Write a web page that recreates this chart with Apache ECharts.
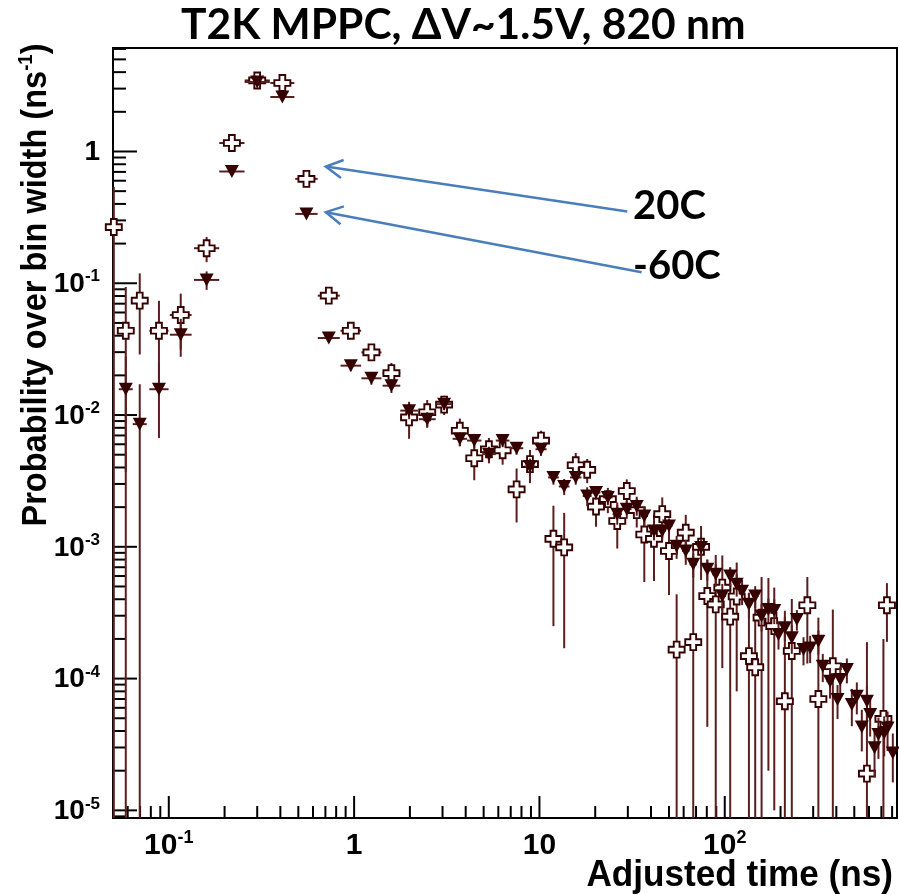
<!DOCTYPE html>
<html><head><meta charset="utf-8">
<script src="https://cdn.jsdelivr.net/npm/echarts@6/dist/echarts.min.js"></script>
<style>html,body{margin:0;padding:0;background:#fff}#c{width:899px;height:895px}</style>
</head><body><div id="c"></div>
<script>
// ---- text ----
const titleText = 'T2K MPPC, \u0394V~1.5V, 820 nm';
const xAxisTitle = 'Adjusted time (ns)';
const seriesNames = ['20C', '-60C'];

// ---- axis ranges and ticks ----
const X_MIN = 0.05, X_MAX = 850;
const Y_MIN = 8.75e-6, Y_MAX = 6.1;
const xMajorTicks = [0.1, 1, 10, 100];
const xMinorTicks = [0.06,0.07,0.08,0.09,0.2,0.3,0.4,0.5,0.6,0.7,0.8,0.9,2,3,4,5,6,7,8,9,20,30,40,50,60,70,80,90,200,300,400,500,600,700,800];
const yMajorTicks = [1e-5, 1e-4, 1e-3, 1e-2, 1e-1, 1];
const yMinorTicks = [9e-6,2e-5,3e-5,4e-5,5e-5,6e-5,7e-5,8e-5,9e-5,2e-4,3e-4,4e-4,5e-4,6e-4,7e-4,8e-4,9e-4,2e-3,3e-3,4e-3,5e-3,6e-3,7e-3,8e-3,9e-3,0.02,0.03,0.04,0.05,0.06,0.07,0.08,0.09,0.2,0.3,0.4,0.5,0.6,0.7,0.8,0.9,2,3,4,5,6];

// ---- 20C (open crosses) ----
const warmX = [0.0505,0.0586,0.0697,0.0885,0.116,0.16,0.219,0.30,0.41,0.553,0.73,0.96,1.24,1.59,1.98,2.48,3.06,3.72,4.45,5.34,6.33,7.53,8.89,10.2,11.9,13.6,15.7,18.1,20.2,23.4,26.3,29.6,33.5,36.8,41.5,46,50,55,61.6,67.6,74.5,80.5,89.4,97,107,116,135,146,158,172,185,211,230,279,320,383,585,718,750];
const warmY = [0.267,0.0436,0.0738,0.0436,0.0574,0.1845,1.16,3.46,3.31,0.62,0.0805,0.0436,0.0299,0.0208,0.0096,0.0105,0.012,0.0076,0.0047,0.0055,0.0054,0.00273,0.00424,0.0064,0.00115,0.00099,0.00416,0.00384,0.00202,0.0023,0.00157,0.00265,0.0019,0.00124,0.00115,0.00177,0.00093,0.000166,0.00128,0.000189,0.001,0.000423,0.000366,0.00049,0.000295,0.00042,0.000148,0.000122,0.00029,0.0003,0.00025,0.0000673,0.000162,0.00036,0.00007,0.000124,0.000019,0.0000495,0.00036];
const warmErr = [0.27,0.05,0.045,0.03,0.026,0.04,0.08,0.25,0.25,0.05,0.006,0.005,0.004,0.004,0.003,0.0025,0.002,0.0018,0.0015,0.0012,0.0012,0.0012,0.0012,0.0012,0.0009,0.00082,0.001,0.0008,0.0006,0.0005,0.0006,0.0006,0.0005,0.0007,0.0006,0.0006,0.0005,0.00027,0.00047,0.0008,0.00044,0.00038,0.0005,0.00037,0.0004,0.00034,0.0003,0.0003,0.0003,0.00028,0.00024,0.00026,0.00024,0.00023,0.00022,0.00021,0.00017,0.00015,0.00017];

// ---- -60C (filled down triangles) ----
const coldX = [0.0586,0.0697,0.0885,0.116,0.16,0.219,0.30,0.41,0.553,0.73,0.96,1.24,1.59,1.98,2.48,3.06,3.72,4.45,5.34,6.33,7.53,8.89,10.2,11.9,13.6,15.7,18.1,20.2,23.4,26.3,29.6,33.5,36.8,41.5,46,50,55,61.6,67.6,74.5,80.5,89.4,97,107,116,124,135,146,158,172,185,195,211,230,245,266,289,320,338,370,406,420,456,485,516,549,585,609,643,675,725,756,807];
const coldY = [0.0157,0.00853,0.0157,0.0407,0.106,0.705,3.37,2.59,0.336,0.0384,0.0237,0.019,0.0167,0.0108,0.0093,0.0121,0.0066,0.0064,0.00505,0.0064,0.0056,0.00407,0.0055,0.00336,0.00287,0.00336,0.00243,0.00258,0.00237,0.00177,0.00193,0.00202,0.00171,0.00132,0.00132,0.00144,0.00101,0.00093,0.000736,0.00099,0.000675,0.000618,0.000423,0.0006,0.000519,0.000461,0.000366,0.000423,0.000298,0.000335,0.000329,0.000216,0.000243,0.000204,0.000281,0.000166,0.000171,0.000192,0.000124,0.0000955,0.0000693,0.0000985,0.000117,0.0000635,0.0000735,0.000043,0.0000673,0.0000533,0.0000298,0.0000376,0.0000387,0.0000422,0.0000273];
const coldErr = [0.012,0.0086,0.009,0.013,0.017,0.05,0.15,0.15,0.02,0.003,0.002,0.002,0.002,0.0015,0.0012,0.0012,0.0008,0.0008,0.0007,0.0007,0.0006,0.0006,0.0006,0.0004,0.0004,0.0004,0.0004,0.0003,0.0003,0.0003,0.0003,0.0003,0.0003,0.0002,0.0002,0.0002,0.0002,0.0002,0.00015,0.00015,0.00012,0.00012,0.0001,0.0001,0.0001,0.0001,0.00008,0.00008,0.00007,0.00007,0.00007,0.00005,0.00005,0.00005,0.00005,0.00004,0.00004,0.00004,0.00003,0.000025,0.00002,0.000025,0.000025,0.00002,0.00002,0.000015,0.00002,0.000017,0.000012,0.000013,0.000013,0.000014,0.000011];

// ---- annotation anchors (data coordinates) ----
const arrowTips = [[0.7035, 0.769], [0.7035, 0.3463]];
const arrowTails = [[29.8, 0.35], [35.6, 0.1213]];
const labelAnchors = [[32.0, 0.387], [32.0, 0.1353]];

const MARK = '#360000';
const ERRC = '#5a1e1e';
const AXF = '"Liberation Sans", Arial, sans-serif';

function buildPoints(xs, ys, es) {
  return xs.map(function (x, i) {
    const prev = i > 0 ? x / xs[i - 1] : Infinity;
    const next = i < xs.length - 1 ? xs[i + 1] / x : Infinity;
    let r = Math.min(prev, next);
    if (!isFinite(r)) r = 1.1;
    const h = Math.sqrt(r);
    return [x, ys[i], es[i], x / h, x * h];
  });
}
const warmPts = buildPoints(warmX, warmY, warmErr);
const coldPts = buildPoints(coldX, coldY, coldErr);

function errRender(params, api) {
  const x = api.value(0), y = api.value(1), e = api.value(2);
  const lo = Math.max(y - e, Y_MIN), hi = Math.min(y + e, Y_MAX);
  const c = api.coord([x, y]);
  const pl = api.coord([x, lo]), ph = api.coord([x, hi]);
  const l = api.coord([api.value(3), y]), r = api.coord([api.value(4), y]);
  const st = { stroke: ERRC, lineWidth: 2 };
  return { type: 'group', children: [
    { type: 'line', shape: { x1: c[0], y1: ph[1], x2: c[0], y2: pl[1] }, style: st },
    { type: 'line', shape: { x1: l[0], y1: c[1], x2: r[0], y2: c[1] }, style: st }
  ]};
}

const tickData = [];
xMajorTicks.forEach(v => tickData.push([v, Y_MIN, 22, 0]));
xMinorTicks.forEach(v => tickData.push([v, Y_MIN, 12, 0]));
yMajorTicks.forEach(v => tickData.push([X_MIN, v, 24, 1]));
yMinorTicks.forEach(v => tickData.push([X_MIN, v, 13, 1]));

function tickRender(params, api) {
  const p = api.coord([api.value(0), api.value(1)]);
  const len = api.value(2);
  const shape = api.value(3) === 0
    ? { x1: p[0], y1: p[1], x2: p[0], y2: p[1] - len }
    : { x1: p[0], y1: p[1], x2: p[0] + len, y2: p[1] };
  return { type: 'line', shape: shape, style: { stroke: '#000', lineWidth: 2 } };
}

function powLabel(v) {
  const l = Math.log10(v);
  const k = Math.round(l);
  if (Math.abs(l - k) > 1e-6) return '';
  if (k === 0) return '{b|1}';
  if (k === 1) return '{b|10}';
  return '{b|10}{s|' + k + '}';
}

const crossPath = 'path://M0.32,0 L0.68,0 L0.68,0.32 L1,0.32 L1,0.68 L0.68,0.68 L0.68,1 L0.32,1 L0.32,0.68 L0,0.68 L0,0.32 L0.32,0.32 Z';

const chart = echarts.init(document.getElementById('c'), null, { renderer: 'canvas' });
const option = {
  animation: false,
  backgroundColor: '#fff',
  title: {
    text: titleText, left: 176, top: -1,
    textStyle: { fontFamily: 'Lato, "Open Sans", sans-serif', fontWeight: 'bold', fontSize: 42.5, color: '#000' }
  },
  grid: { left: 113, right: 2, top: 48, bottom: 77, show: true, borderColor: '#000', borderWidth: 2, backgroundColor: 'transparent', containLabel: false, outerBoundsMode: 'none' },
  xAxis: {
    type: 'log', logBase: 10, min: X_MIN, max: X_MAX,
    axisLine: { show: false }, axisTick: { show: false }, minorTick: { show: false }, splitLine: { show: false },
    axisLabel: {
      margin: 11, formatter: powLabel, showMinLabel: true, showMaxLabel: true, hideOverlap: false,
      rich: {
        b: { fontFamily: AXF, fontWeight: 'bold', fontSize: 30, color: '#000', lineHeight: 32, verticalAlign: 'bottom' },
        s: { fontFamily: AXF, fontWeight: 'bold', fontSize: 18, color: '#000', lineHeight: 18, verticalAlign: 'top' }
      }
    }
  },
  yAxis: {
    type: 'log', logBase: 10, min: Y_MIN, max: Y_MAX,
    axisLine: { show: false }, axisTick: { show: false }, minorTick: { show: false }, splitLine: { show: false },
    axisLabel: {
      margin: 13, formatter: powLabel, hideOverlap: false,
      rich: {
        b: { fontFamily: AXF, fontWeight: 'bold', fontSize: 28, color: '#000', lineHeight: 30, verticalAlign: 'bottom' },
        s: { fontFamily: AXF, fontWeight: 'bold', fontSize: 17, color: '#000', lineHeight: 17, verticalAlign: 'top' }
      }
    }
  },
  series: [
    { type: 'custom', name: 'ticks', silent: true, clip: false, z: 1, data: tickData, renderItem: tickRender, encode: { x: 0, y: 1 } },
    { type: 'custom', name: seriesNames[0] + ' err', silent: true, clip: false, z: 2, data: warmPts, renderItem: errRender, encode: { x: 0, y: 1 } },
    { type: 'scatter', name: seriesNames[0], silent: true, clip: false, z: 3, data: warmPts.map(p => [p[0], p[1]]),
      symbol: crossPath, symbolSize: 16, itemStyle: { color: '#fff', borderColor: MARK, borderWidth: 1.9, opacity: 1 } },
    { type: 'custom', name: seriesNames[1] + ' err', silent: true, clip: false, z: 4, data: coldPts, renderItem: errRender, encode: { x: 0, y: 1 } },
    { type: 'scatter', name: seriesNames[1], silent: true, clip: false, z: 5, data: coldPts.map(p => [p[0], p[1]]),
      symbol: 'triangle', symbolRotate: 180, symbolSize: [14, 13], itemStyle: { color: MARK, opacity: 1 } }
  ]
};
chart.setOption(option);

function px(p) { return chart.convertToPixel({ gridIndex: 0 }, p); }
const graphics = [];
arrowTips.forEach(function (tipD, i) {
  const tip = px(tipD), tail = px(arrowTails[i]);
  const ang = Math.atan2(tail[1] - tip[1], tail[0] - tip[0]);
  const L = 19, A = 0.5;
  const w1 = [tip[0] + L * Math.cos(ang + A), tip[1] + L * Math.sin(ang + A)];
  const w2 = [tip[0] + L * Math.cos(ang - A), tip[1] + L * Math.sin(ang - A)];
  const st = { stroke: '#4a7ebb', lineWidth: 2.5, fill: null };
  graphics.push({ type: 'line', shape: { x1: tail[0], y1: tail[1], x2: tip[0], y2: tip[1] }, style: st, z: 10 });
  graphics.push({ type: 'polyline', shape: { points: [w1, tip, w2] }, style: st, z: 10 });
});
labelAnchors.forEach(function (a, i) {
  const p = px(a);
  graphics.push({ type: 'text', x: p[0], y: p[1], z: 11,
    style: { text: seriesNames[i], fontFamily: 'Lato, "Open Sans", sans-serif', fontWeight: 'bold', fontSize: 40, fill: '#000', align: 'left', verticalAlign: 'middle' } });
});
graphics.push({ type: 'text', x: 893, y: 876, scaleX: 0.95, z: 11,
  style: { text: xAxisTitle, fontFamily: AXF, fontWeight: 'bold', fontSize: 37, fill: '#000', align: 'right', verticalAlign: 'middle' } });
graphics.push({ type: 'text', x: 35, y: 285, rotation: Math.PI / 2, scaleX: 0.93, z: 11,
  style: { text: '{t|Probability over bin width (ns}{s|-1}{t|)}', align: 'center', verticalAlign: 'middle',
    rich: {
      t: { fontFamily: AXF, fontWeight: 'bold', fontSize: 35, fill: '#000', lineHeight: 37, verticalAlign: 'bottom' },
      s: { fontFamily: AXF, fontWeight: 'bold', fontSize: 20, fill: '#000', lineHeight: 20, verticalAlign: 'top' }
    } } });
chart.setOption({ graphic: graphics });
</script>
</body></html>
